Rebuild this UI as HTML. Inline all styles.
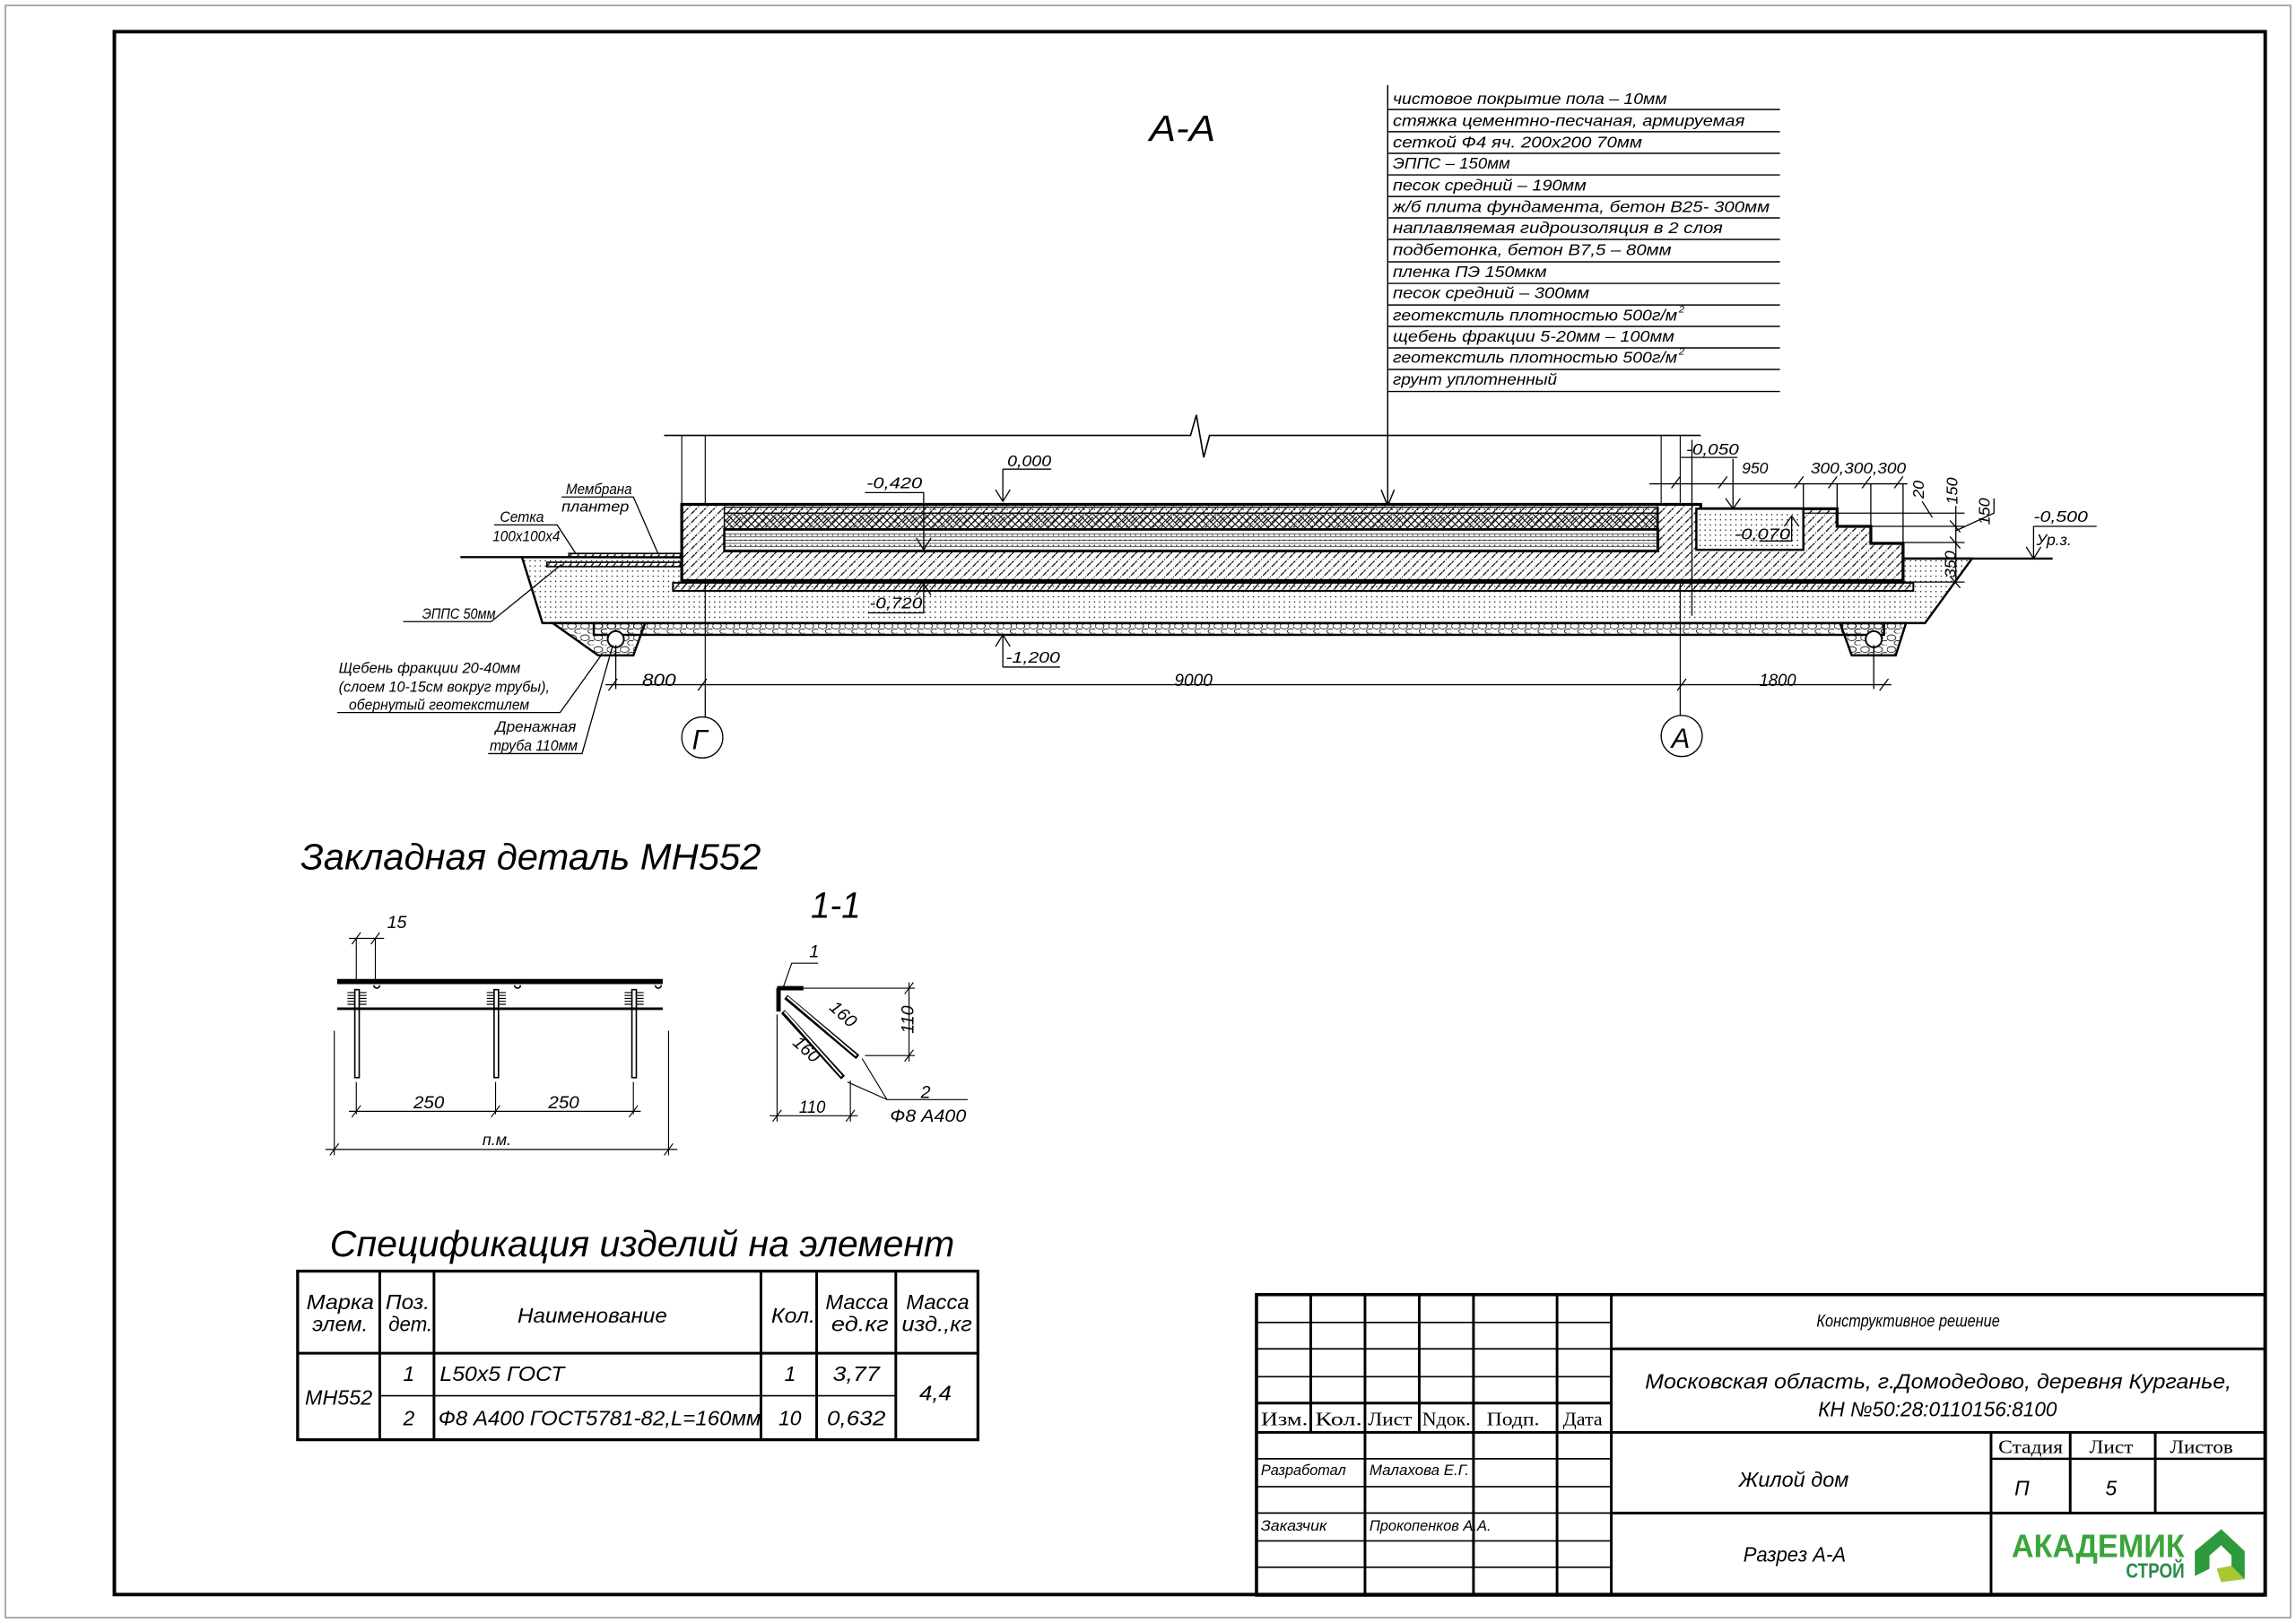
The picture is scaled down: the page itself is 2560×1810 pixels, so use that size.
<!DOCTYPE html>
<html><head><meta charset="utf-8"><style>
html,body{margin:0;padding:0;background:#fff;}
svg{display:block;}
text{font-family:"Liberation Sans","DejaVu Sans",sans-serif;font-style:italic;fill:#000;}
.s{font-family:"Liberation Serif",serif;font-style:normal;}
</style></head><body>
<svg width="2560" height="1810" viewBox="0 0 1566 1107" preserveAspectRatio="none" xmlns="http://www.w3.org/2000/svg">
<defs>
<pattern id="conc" width="6" height="6" patternUnits="userSpaceOnUse">
<path d="M-1 7 L7 -1" stroke="#000" stroke-width="0.75" stroke-dasharray="3.5 1 0.7 1"/>
</pattern>
<pattern id="dots" width="3.5" height="3.5" patternUnits="userSpaceOnUse">
<circle cx="1" cy="1" r="0.45" fill="#000"/>
</pattern>
<pattern id="cross" width="5" height="5" patternUnits="userSpaceOnUse">
<path d="M0 0 L5 5 M5 0 L0 5" stroke="#000" stroke-width="0.6"/>
</pattern>
<pattern id="hlines" width="4" height="2.2" patternUnits="userSpaceOnUse">
<path d="M0 1 H4" stroke="#000" stroke-width="0.4"/>
</pattern>
<pattern id="diag" width="5" height="6" patternUnits="userSpaceOnUse">
<path d="M0 6 L5 0" stroke="#000" stroke-width="0.8"/>
</pattern>
<pattern id="grav" width="9" height="8" patternUnits="userSpaceOnUse">
<ellipse cx="3" cy="3" rx="3" ry="2" fill="none" stroke="#000" stroke-width="0.5"/>
<ellipse cx="7.5" cy="6.5" rx="2.5" ry="1.6" fill="none" stroke="#000" stroke-width="0.5"/>
</pattern>
</defs>

<rect x="3.7" y="3.7" width="1558.6" height="1099.6" fill="none" stroke="#999" stroke-width="1"/>
<rect x="78" y="21.6" width="1467" height="1066" fill="none" stroke="#000" stroke-width="2.4"/>

<text x="784" y="96" font-size="25" textLength="45" lengthAdjust="spacingAndGlyphs">А-А</text>

<g stroke="#000" stroke-width="0.9">
<line x1="946.5" y1="58" x2="946.5" y2="345"/>
<line x1="947" y1="74.7" x2="1214" y2="74.7"/><line x1="947" y1="89.8" x2="1214" y2="89.8"/>
<line x1="947" y1="104.6" x2="1214" y2="104.6"/><line x1="947" y1="119.3" x2="1214" y2="119.3"/>
<line x1="947" y1="134" x2="1214" y2="134"/><line x1="947" y1="148.6" x2="1214" y2="148.6"/>
<line x1="947" y1="163.3" x2="1214" y2="163.3"/><line x1="947" y1="178.6" x2="1214" y2="178.6"/>
<line x1="947" y1="193.3" x2="1214" y2="193.3"/><line x1="947" y1="208" x2="1214" y2="208"/>
<line x1="947" y1="222.6" x2="1214" y2="222.6"/><line x1="947" y1="237.3" x2="1214" y2="237.3"/>
<line x1="947" y1="252" x2="1214" y2="252"/><line x1="947" y1="267" x2="1214" y2="267"/>
</g>
<path d="M942 334 L946.5 345 L951 334" fill="none" stroke="#000" stroke-width="0.9"/>
<g font-size="11">
<text x="950" y="71" textLength="187" lengthAdjust="spacingAndGlyphs">чистовое покрытие пола – 10мм</text>
<text x="950" y="86" textLength="240" lengthAdjust="spacingAndGlyphs">стяжка цементно-песчаная, армируемая</text>
<text x="950" y="100.5" textLength="170" lengthAdjust="spacingAndGlyphs">сеткой Ф4 яч. 200х200 70мм</text>
<text x="950" y="115" textLength="80" lengthAdjust="spacingAndGlyphs">ЭППС – 150мм</text>
<text x="950" y="130" textLength="132" lengthAdjust="spacingAndGlyphs">песок средний – 190мм</text>
<text x="950" y="144.5" textLength="257" lengthAdjust="spacingAndGlyphs">ж/б плита фундамента, бетон В25- 300мм</text>
<text x="950" y="159" textLength="225" lengthAdjust="spacingAndGlyphs">наплавляемая гидроизоляция в 2 слоя</text>
<text x="950" y="174" textLength="190" lengthAdjust="spacingAndGlyphs">подбетонка,  бетон В7,5 – 80мм</text>
<text x="950" y="189" textLength="105" lengthAdjust="spacingAndGlyphs">пленка ПЭ 150мкм</text>
<text x="950" y="203.5" textLength="134" lengthAdjust="spacingAndGlyphs">песок средний – 300мм</text>
<text x="950" y="218.5" textLength="194" lengthAdjust="spacingAndGlyphs">геотекстиль плотностью 500г/м</text>
<text x="1145" y="213" font-size="7">2</text>
<text x="950" y="233" textLength="192" lengthAdjust="spacingAndGlyphs">щебень фракции 5-20мм – 100мм</text>
<text x="950" y="247.5" textLength="194" lengthAdjust="spacingAndGlyphs">геотекстиль плотностью 500г/м</text>
<text x="1145" y="242" font-size="7">2</text>
<text x="950" y="262.5" textLength="112" lengthAdjust="spacingAndGlyphs">грунт уплотненный</text>
</g>

<path d="M453 297 H812 L816 283 L821 312 L825 297 H1160" fill="none" stroke="#000" stroke-width="1"/>
<g stroke="#000" stroke-width="0.7">
<line x1="465" y1="297" x2="465" y2="344"/><line x1="481" y1="297" x2="481" y2="470"/>
<line x1="1133" y1="297" x2="1133" y2="344"/><line x1="1146" y1="297" x2="1146" y2="470"/>
</g>
<path d="M356 380 L1345 381 L1313 425 L370 425 Z" fill="url(#dots)" stroke="#000" stroke-width="1.5"/>
<rect x="405" y="425" width="880" height="8" fill="url(#grav)" stroke="#000" stroke-width="1.5"/>
<path d="M377 425 L440 425 L432 447 L408 447 Z" fill="url(#grav)" stroke="#000" stroke-width="1.5"/>
<circle cx="420" cy="436" r="5.5" fill="#fff" stroke="#000" stroke-width="1.2"/>
<path d="M1255 425 L1300 425 L1293 447 L1263 447 Z" fill="url(#grav)" stroke="#000" stroke-width="1.5"/>
<circle cx="1278" cy="436" r="5.5" fill="#fff" stroke="#000" stroke-width="1.2"/>
<rect x="459" y="397.5" width="846" height="5.5" fill="url(#diag)" stroke="#000" stroke-width="1.2"/>
<path d="M465 344 H1160 V347 H1253 V359 H1276 V370.6 H1298 V396 H465 Z" fill="#fff" stroke="none"/>
<path d="M465 344 H1160 V347 H1253 V359 H1276 V370.6 H1298 V396 H465 Z" fill="url(#conc)" stroke="#000" stroke-width="2"/>
<rect x="494" y="346" width="637" height="4" fill="url(#dots)" stroke="#000" stroke-width="0.8"/>
<rect x="494" y="350" width="637" height="11" fill="url(#cross)" stroke="#000" stroke-width="0.8"/>
<rect x="494" y="361" width="637" height="15" fill="#fff" stroke="none"/>
<rect x="494" y="361" width="637" height="15" fill="url(#hlines)" stroke="#000" stroke-width="1.5"/>
<rect x="494" y="361" width="637" height="15" fill="url(#dots)" stroke="none"/>
<rect x="1157" y="347" width="73" height="28" fill="#fff" stroke="#000" stroke-width="1.5"/>
<rect x="1158" y="348" width="71" height="26" fill="url(#dots)"/>
<line x1="1130.5" y1="346" x2="1130.5" y2="376" stroke="#000" stroke-width="1.5"/>
<rect x="388" y="377.5" width="76" height="2.5" fill="url(#diag)" stroke="#000" stroke-width="1"/>
<rect x="373" y="383.5" width="91" height="3" fill="url(#diag)" stroke="#000" stroke-width="1"/>
<line x1="314" y1="380" x2="356" y2="380" stroke="#000" stroke-width="1.5"/>
<line x1="1298" y1="381" x2="1400" y2="381" stroke="#000" stroke-width="1.5"/>

<g stroke="#000" stroke-width="0.8" fill="none">
<path d="M590 336 H630 V375"/><path d="M625 367 L630 375 L635 367"/>
<path d="M684 320 H717"/><path d="M684 320 V342"/><path d="M679 334 L684 342 L689 334"/>
<path d="M592 418 H630 V398"/><path d="M625 406 L630 398 L635 406"/>
<path d="M684 455 H723"/><path d="M684 455 V433"/><path d="M679 441 L684 433 L689 441"/>
<path d="M1146 312 H1185"/><path d="M1154 300 V420"/>
<path d="M1182 313 V347"/><path d="M1177 340 L1182 347 L1187 340"/>
<path d="M1200 369 H1222 V352"/><path d="M1217 359 L1222 352 L1227 359"/>
<path d="M1387 359 H1430"/><path d="M1387 359 V381"/><path d="M1382 373 L1387 381 L1392 373"/>
<path d="M1125 330 H1301"/>
<path d="M1140 333 L1146 325 M1172 333 L1178 325 M1224 333 L1230 325 M1247 333 L1253 325 M1270 333 L1276 325 M1292 333 L1298 325"/>
<path d="M1230 330 V347 M1253 330 V359 M1276 330 V370 M1298 330 V371"/>
<path d="M1230 350 H1340 M1253 359 H1340 M1276 370 H1340 M1298 397 H1340"/>
<path d="M1311 342 L1318 353 M1330 355 L1337 363 M1330 366 L1337 374 M1330 393 L1337 401"/>
<path d="M1334 345 V398"/>
<path d="M1334 362 L1360 350 V340"/>
</g>
<g font-size="11">
<text x="591" y="333" textLength="38" lengthAdjust="spacingAndGlyphs">-0,420</text>
<text x="687" y="318" textLength="30" lengthAdjust="spacingAndGlyphs">0,000</text>
<text x="593" y="415" textLength="36" lengthAdjust="spacingAndGlyphs">-0,720</text>
<text x="686" y="452" textLength="37" lengthAdjust="spacingAndGlyphs">-1,200</text>
<text x="1150" y="310" textLength="36" lengthAdjust="spacingAndGlyphs">-0,050</text>
<text x="1188" y="323" textLength="18" lengthAdjust="spacingAndGlyphs">950</text>
<text x="1235" y="323" textLength="65" lengthAdjust="spacingAndGlyphs">300,300,300</text>
<text x="1183" y="368" textLength="38" lengthAdjust="spacingAndGlyphs">-0,070</text>
<text x="1387" y="356" textLength="37" lengthAdjust="spacingAndGlyphs">-0,500</text>
<text x="1389" y="372" textLength="24" lengthAdjust="spacingAndGlyphs">Ур.з.</text>
<text transform="translate(1312,340) rotate(-90)">20</text>
<text transform="translate(1335,344) rotate(-90)">150</text>
<text transform="translate(1357,358) rotate(-90)">150</text>
<text transform="translate(1334,394) rotate(-90)">350</text>
</g>
<g stroke="#000" stroke-width="0.8" fill="none">
<line x1="413" y1="467" x2="1290" y2="467"/>
<path d="M415 471 L421 463 M476 471 L482 463 M1144 471 L1150 463 M1282 471 L1288 463"/>
<line x1="420" y1="440" x2="420" y2="470"/><line x1="1278" y1="440" x2="1278" y2="470"/>
<line x1="481" y1="470" x2="481" y2="489"/><line x1="1146" y1="470" x2="1146" y2="488"/>
<circle cx="479" cy="503" r="14"/><circle cx="1147" cy="502" r="14"/>
</g>
<g font-size="12">
<text x="438" y="468" textLength="23" lengthAdjust="spacingAndGlyphs">800</text>
<text x="801" y="468" textLength="26" lengthAdjust="spacingAndGlyphs">9000</text>
<text x="1200" y="468" textLength="25" lengthAdjust="spacingAndGlyphs">1800</text>
<text x="472" y="511" font-size="19">Г</text>
<text x="1140" y="510" font-size="19">А</text>
</g>
<g stroke="#000" stroke-width="0.8" fill="none">
<path d="M383 339 H432 L449 378"/>
<path d="M337 358 H380 L393 378"/>
<path d="M275 424 H335 L383 385"/>
<path d="M230 486 H382 L410 447"/>
<path d="M333 514 H397 L418 440"/>
</g>
<g font-size="10">
<text x="386" y="337" textLength="45" lengthAdjust="spacingAndGlyphs">Мембрана</text>
<text x="383" y="349" textLength="46" lengthAdjust="spacingAndGlyphs">плантер</text>
<text x="341" y="356" textLength="30" lengthAdjust="spacingAndGlyphs">Сетка</text>
<text x="336" y="369" textLength="46" lengthAdjust="spacingAndGlyphs">100х100х4</text>
<text x="288" y="422" textLength="50" lengthAdjust="spacingAndGlyphs">ЭППС 50мм</text>
<text x="231" y="459" textLength="124" lengthAdjust="spacingAndGlyphs">Щебень фракции 20-40мм</text>
<text x="231" y="472" textLength="144" lengthAdjust="spacingAndGlyphs">(слоем 10-15см вокруг трубы),</text>
<text x="238" y="484" textLength="123" lengthAdjust="spacingAndGlyphs">обернутый геотекстилем</text>
<text x="338" y="499" textLength="55" lengthAdjust="spacingAndGlyphs">Дренажная</text>
<text x="334" y="512" textLength="60" lengthAdjust="spacingAndGlyphs">труба 110мм</text>
</g>

<text x="205" y="593" font-size="25" textLength="314" lengthAdjust="spacingAndGlyphs">Закладная деталь МН552</text>
<text x="553" y="626" font-size="25" textLength="34" lengthAdjust="spacingAndGlyphs">1-1</text>
<g stroke="#000" fill="none">
<line x1="230" y1="669.5" x2="452" y2="669.5" stroke-width="3.5"/>
<line x1="230" y1="688" x2="452" y2="688" stroke-width="1.8"/>
<rect x="242" y="675" width="3" height="60" stroke-width="1"/>
<rect x="337" y="675" width="3" height="60" stroke-width="1"/>
<rect x="431" y="675" width="3" height="60" stroke-width="1"/>
<path d="M255 672 a2 2 0 0 0 4 0 M351 672 a2 2 0 0 0 4 0 M447 672 a2 2 0 0 0 4 0" stroke-width="1"/>
<g stroke-width="0.7">
<path d="M237 677 h5 M237 679 h5 M237 681 h5 M237 683 h5 M237 685 h5 M245 677 h5 M245 679 h5 M245 681 h5 M245 683 h5 M245 685 h5"/>
<path d="M332 677 h5 M332 679 h5 M332 681 h5 M332 683 h5 M332 685 h5 M340 677 h5 M340 679 h5 M340 681 h5 M340 683 h5 M340 685 h5"/>
<path d="M426 677 h5 M426 679 h5 M426 681 h5 M426 683 h5 M426 685 h5 M434 677 h5 M434 679 h5 M434 681 h5 M434 683 h5 M434 685 h5"/>
<line x1="243" y1="640" x2="243" y2="668"/><line x1="256" y1="640" x2="256" y2="668"/>
<line x1="238" y1="640" x2="262" y2="640"/>
<path d="M240 644 L246 636 M253 644 L259 636"/>
<line x1="243" y1="738" x2="243" y2="760"/><line x1="338" y1="738" x2="338" y2="760"/><line x1="432" y1="738" x2="432" y2="760"/>
<line x1="238" y1="758" x2="437" y2="758"/>
<path d="M240 762 L246 754 M335 762 L341 754 M429 762 L435 754"/>
<line x1="228" y1="703" x2="228" y2="788"/><line x1="456" y1="703" x2="456" y2="788"/>
<line x1="222" y1="784" x2="462" y2="784"/>
<path d="M225 788 L231 780 M453 788 L459 780"/>
</g>
</g>
<g font-size="12">
<text x="264" y="633">15</text>
<text x="282" y="756" textLength="21" lengthAdjust="spacingAndGlyphs">250</text>
<text x="374" y="756" textLength="21" lengthAdjust="spacingAndGlyphs">250</text>
<text x="329" y="781" font-size="11">п.м.</text>
</g>
<g stroke="#000" fill="none">
<path d="M530 674 H548 M531 674 V690" stroke-width="3"/>
<path d="M536 680 L585 721 M534 690 L575 735" stroke-width="3.5"/>
<path d="M537 680 L584 720 M535 690 L574 734" stroke="#fff" stroke-width="1.2"/>
<g stroke-width="0.7">
<path d="M534 674 L540 657 H558"/>
<path d="M548 674 H624 M590 720 H624"/>
<line x1="620" y1="670" x2="620" y2="724"/>
<path d="M617 678 L623 670 M617 724 L623 716"/>
<line x1="530" y1="692" x2="530" y2="765"/><line x1="580" y1="737" x2="580" y2="765"/>
<line x1="525" y1="761" x2="585" y2="761"/>
<path d="M527 765 L533 757 M577 765 L583 757"/>
<path d="M588 722 L605 750 H660 M578 738 L605 750"/>
</g>
</g>
<g font-size="12">
<text x="552" y="653">1</text>
<text x="628" y="749">2</text>
<text x="607" y="765" textLength="52" lengthAdjust="spacingAndGlyphs">Ф8 А400</text>
<text x="545" y="759" textLength="18" lengthAdjust="spacingAndGlyphs">110</text>
<text transform="translate(623,705) rotate(-90)">110</text>
<text transform="translate(565,688) rotate(42)">160</text>
<text transform="translate(540,712) rotate(42)">160</text>
</g>

<text x="225" y="857" font-size="25" textLength="426" lengthAdjust="spacingAndGlyphs">Спецификация изделий на элемент</text>
<g stroke="#000" fill="none">
<rect x="203" y="867" width="464" height="115" stroke-width="2"/>
<path d="M259 867 V982 M296 867 V982 M519 867 V982 M557 867 V982 M611 867 V982" stroke-width="1.8"/>
<path d="M203 923 H667" stroke-width="1.8"/>
<path d="M259 952 H611" stroke-width="1"/>
</g>
<g font-size="14">
<text x="209" y="893" textLength="46" lengthAdjust="spacingAndGlyphs">Марка</text>
<text x="213" y="908" textLength="38" lengthAdjust="spacingAndGlyphs">элем.</text>
<text x="263" y="893" textLength="30" lengthAdjust="spacingAndGlyphs">Поз.</text>
<text x="265" y="908" textLength="30" lengthAdjust="spacingAndGlyphs">дет.</text>
<text x="353" y="902" textLength="102" lengthAdjust="spacingAndGlyphs">Наименование</text>
<text x="526" y="902" textLength="30" lengthAdjust="spacingAndGlyphs">Кол.</text>
<text x="563" y="893" textLength="43" lengthAdjust="spacingAndGlyphs">Масса</text>
<text x="567" y="908" textLength="39" lengthAdjust="spacingAndGlyphs">ед.кг</text>
<text x="618" y="893" textLength="43" lengthAdjust="spacingAndGlyphs">Масса</text>
<text x="615" y="908" textLength="48" lengthAdjust="spacingAndGlyphs">изд.,кг</text>
<text x="208" y="958" textLength="46" lengthAdjust="spacingAndGlyphs">МН552</text>
<text x="275" y="942">1</text>
<text x="275" y="972">2</text>
<text x="300" y="942" textLength="85" lengthAdjust="spacingAndGlyphs">L50x5 ГОСТ</text>
<text x="299" y="972" textLength="220" lengthAdjust="spacingAndGlyphs">Ф8 А400 ГОСТ5781-82,L=160мм</text>
<text x="535" y="942">1</text>
<text x="531" y="972">10</text>
<text x="568" y="942" textLength="32" lengthAdjust="spacingAndGlyphs">3,77</text>
<text x="564" y="972" textLength="40" lengthAdjust="spacingAndGlyphs">0,632</text>
<text x="627" y="955" textLength="22" lengthAdjust="spacingAndGlyphs">4,4</text>
</g>

<g stroke="#000" fill="none">
<rect x="857" y="883" width="688" height="205" stroke-width="2.2"/>
<path d="M894 883 V977 M968 883 V977 M931 883 V1088 M1005 883 V1088 M1062 883 V1088 M1099 883 V1088" stroke-width="1.8"/>
<path d="M857 902 H1099 M857 920 H1099 M857 939 H1099 M857 995 H1099 M857 1014 H1099 M857 1032 H1099 M857 1051 H1099 M857 1069 H1099" stroke-width="1"/>
<path d="M857 957 H1099 M857 977 H1545" stroke-width="1.8"/>
<path d="M1099 920 H1545 M1099 1032 H1545" stroke-width="1.8"/>
<path d="M1358 977 V1088 M1412 977 V1032 M1470 977 V1032" stroke-width="1.8"/>
<path d="M1358 995 H1545" stroke-width="1.5"/>
</g>
<g class="s" font-size="13">
<text class="s" x="860" y="972" textLength="32" lengthAdjust="spacingAndGlyphs">Изм.</text>
<text class="s" x="897" y="972" textLength="32" lengthAdjust="spacingAndGlyphs">Кол.</text>
<text class="s" x="933" y="972" textLength="30" lengthAdjust="spacingAndGlyphs">Лист</text>
<text class="s" x="970" y="972" textLength="33" lengthAdjust="spacingAndGlyphs">Nдок.</text>
<text class="s" x="1014" y="972" textLength="36" lengthAdjust="spacingAndGlyphs">Подп.</text>
<text class="s" x="1066" y="972" textLength="27" lengthAdjust="spacingAndGlyphs">Дата</text>
<text class="s" x="1363" y="991" textLength="44" lengthAdjust="spacingAndGlyphs">Стадия</text>
<text class="s" x="1425" y="991" textLength="30" lengthAdjust="spacingAndGlyphs">Лист</text>
<text class="s" x="1480" y="991" textLength="43" lengthAdjust="spacingAndGlyphs">Листов</text>
</g>
<g font-size="10">
<text x="860" y="1006" textLength="58" lengthAdjust="spacingAndGlyphs">Разработал</text>
<text x="934" y="1006" textLength="68" lengthAdjust="spacingAndGlyphs">Малахова Е.Г.</text>
<text x="860" y="1044" textLength="45" lengthAdjust="spacingAndGlyphs">Заказчик</text>
<text x="934" y="1044" textLength="83" lengthAdjust="spacingAndGlyphs">Прокопенков А.А.</text>
</g>
<g font-size="14">
<text x="1239" y="905" font-size="12" textLength="125" lengthAdjust="spacingAndGlyphs">Конструктивное решение</text>
<text x="1122" y="947" textLength="400" lengthAdjust="spacingAndGlyphs">Московская область, г.Домодедово, деревня Курганье,</text>
<text x="1240" y="966" textLength="163" lengthAdjust="spacingAndGlyphs">КН №50:28:0110156:8100</text>
<text x="1186" y="1014" textLength="75" lengthAdjust="spacingAndGlyphs">Жилой дом</text>
<text x="1189" y="1065" textLength="70" lengthAdjust="spacingAndGlyphs">Разрез А-А</text>
<text x="1374" y="1020">П</text>
<text x="1436" y="1020">5</text>
</g>
<text x="1372" y="1062" font-size="22" font-weight="bold" textLength="118" lengthAdjust="spacingAndGlyphs" style="font-style:normal;fill:#3aa53a">АКАДЕМИК</text>
<text x="1450" y="1076" font-size="14" font-weight="bold" textLength="40" lengthAdjust="spacingAndGlyphs" style="font-style:normal;fill:#2a8a4a">СТРОЙ</text>
<path d="M1497 1058 L1515 1043 L1531 1058 V1077 L1515 1079 L1512 1070 L1522 1068 V1061 L1515 1054 L1507 1061 V1070 L1497 1075 Z" fill="#2e9a3e"/>
<path d="M1512 1070 L1522 1068 L1531 1077 L1515 1079 Z" fill="#a8c832"/>
</svg>
</body></html>
